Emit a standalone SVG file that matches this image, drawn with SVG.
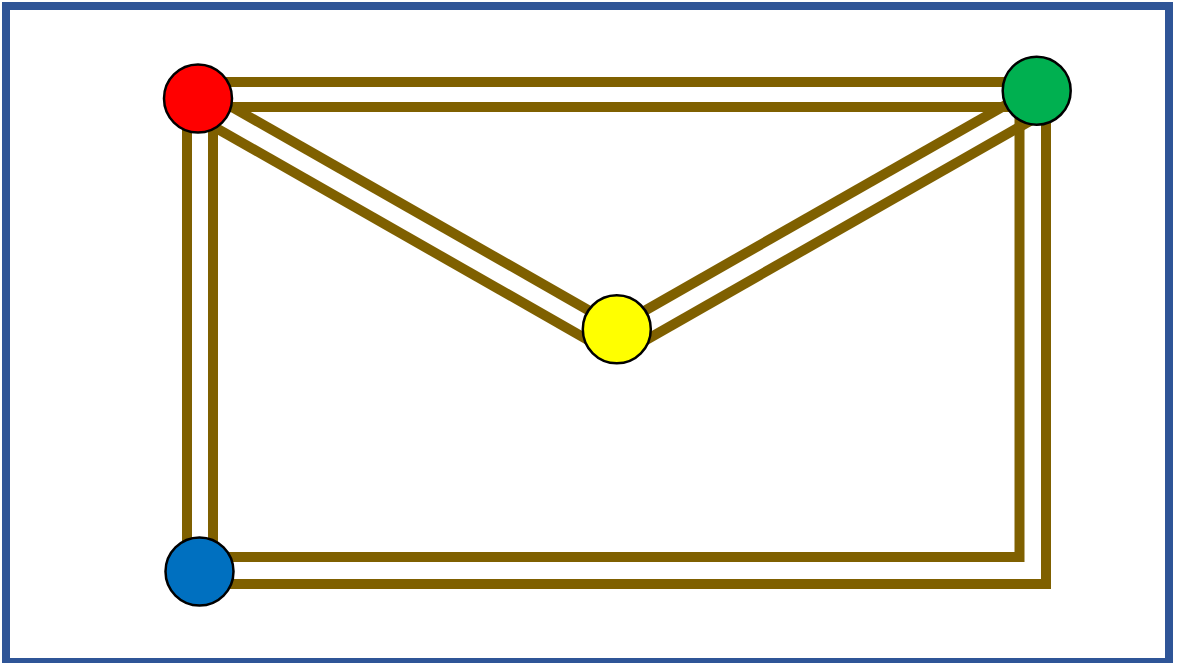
<svg xmlns="http://www.w3.org/2000/svg" width="1179" height="663" viewBox="0 0 1179 663">
  <style>
    .band { fill: none; stroke: #7F6000; stroke-width: 10; stroke-linejoin: miter; stroke-linecap: butt; }
    .node { stroke: #000000; stroke-width: 2.5; }
  </style>
  <rect id="frame" x="6" y="6" width="1163" height="656" fill="#FFFFFF" stroke="#2F5597" stroke-width="8"/>
  <g id="connectors">
    <rect class="band" x="187" y="82" width="859" height="502"/>
    <rect class="band" x="213" y="107" width="806.5" height="450"/>
    <path class="band" d="M220 100.2 L600 316.8"/>
    <path class="band" d="M200 118.8 L600 346.8"/>
    <path class="band" d="M634 316.8 L1036 87.7"/>
    <path class="band" d="M634 346.8 L1036 117.6"/>
  </g>
  <g id="node-red"><circle class="node" cx="198" cy="98.5" r="34" fill="#FF0000"/></g>
  <g id="node-green"><circle class="node" cx="1036.7" cy="90.7" r="34" fill="#00B050"/></g>
  <g id="node-yellow"><circle class="node" cx="616.8" cy="329.3" r="34" fill="#FFFF00"/></g>
  <g id="node-blue"><circle class="node" cx="199.5" cy="571.5" r="34" fill="#0070C0"/></g>
</svg>
